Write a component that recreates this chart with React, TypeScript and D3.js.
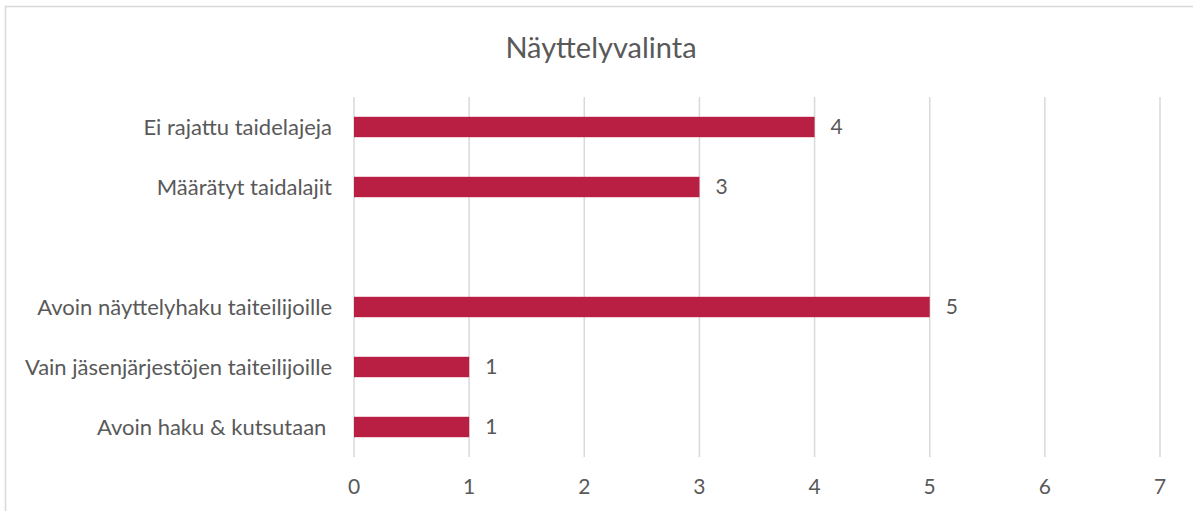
import React from "react";
import * as d3 from "d3";

const title = "Näyttelyvalinta";
const categories = [
  "Ei rajattu taidelajeja",
  "Määrätyt taidalajit",
  "",
  "Avoin näyttelyhaku taiteilijoille",
  "Vain jäsenjärjestöjen taiteilijoille",
  "Avoin haku & kutsutaan ",
];
const values: (number | null)[] = [4, 3, null, 5, 1, 1];
const ticks = [0, 1, 2, 3, 4, 5, 6, 7];

const W = 1193;
const H = 511;
const FONT = "Lato, 'Open Sans', sans-serif";
const TEXT = "#595959";
const BAR = "#B81F42";

export default function App() {
  const x = d3.scaleLinear().domain([0, 7]).range([354, 1160]);
  const y = d3
    .scaleBand<number>()
    .domain(categories.map((_, i) => i))
    .range([97, 457])
    .paddingInner(0.66)
    .paddingOuter(0.33);
  const bw = y.bandwidth();
  return (
    <svg
      width={W}
      height={H}
      style={{ position: "absolute", left: 0, top: 0, background: "#fff" }}
      fontFamily={FONT}
    >
      <rect x={5.5} y={6.5} width={W + 10} height={H + 10} fill="#fff" stroke="#d9d9d9" strokeWidth={1.5} />
      <text x={601} y={58} textAnchor="middle" fontSize={29} fill={TEXT}>
        {title}
      </text>
      {ticks.map((t) => (
        <g key={t}>
          <line x1={x(t)} x2={x(t)} y1={97} y2={457} stroke="#d9d9d9" strokeWidth={1.5} />
          <text x={x(t)} y={494} textAnchor="middle" fontSize={21} fill={TEXT}>
            {t}
          </text>
        </g>
      ))}
      {categories.map((c, i) => {
        const v = values[i];
        const yc = (y(i) as number) + bw / 2;
        return (
          <g key={i}>
            <text x={332} y={yc} dy="0.35em" textAnchor="end" fontSize={22} fill={TEXT} style={{ whiteSpace: "pre" }}>
              {c}
            </text>
            {v != null && (
              <>
                <rect x={x(0)} y={y(i)} width={x(v) - x(0)} height={bw} fill={BAR} />
                <text x={x(v) + 16} y={yc} dy="0.35em" fontSize={21} fill={TEXT}>
                  {v}
                </text>
              </>
            )}
          </g>
        );
      })}
    </svg>
  );
}
